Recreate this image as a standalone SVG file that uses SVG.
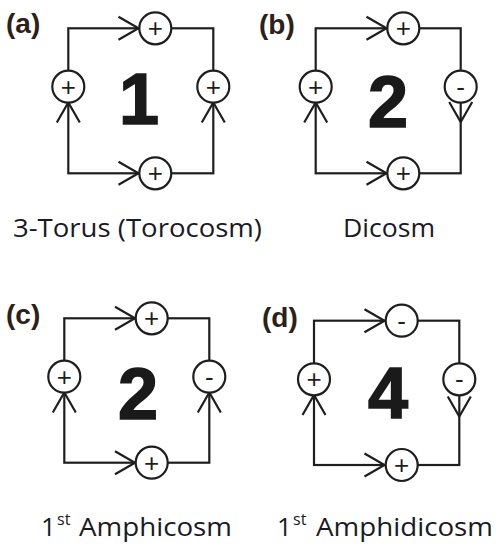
<svg xmlns="http://www.w3.org/2000/svg" width="503" height="558" viewBox="0 0 503 558">
<style>
.ln{fill:none;stroke:#1e1e1e;stroke-width:2.2}
.nd{fill:#fff;stroke:#1e1e1e;stroke-width:2.2}
.sg{font-family:"Liberation Sans",Arial,sans-serif;font-size:26px;fill:#1e1e1e;text-anchor:middle}
.big{font-family:"Liberation Sans",Arial,sans-serif;font-weight:bold;font-size:72px;fill:#1a1a1a;stroke:#1a1a1a;stroke-width:1.6;text-anchor:middle}
.tag{font-family:"Liberation Sans",Arial,sans-serif;font-weight:bold;font-size:28px;fill:#2b2118}
.cap{font-family:"Open Sans","Liberation Sans",sans-serif;font-size:26px;fill:#1a1a24}
.sup{font-family:"Open Sans","Liberation Sans",sans-serif;font-size:16px;fill:#1a1a24}
</style>
<defs>
<path id="chev" class="ln" d="M-20,-11.5 L0,0 L-20,11.5"/>
</defs>
<rect width="503" height="558" fill="#fff"/>
<g id="connectors">
<rect class="ln" x="68.3" y="28.3" width="145" height="145"/>
<rect class="ln" x="315.7" y="28.3" width="145" height="145"/>
<rect class="ln" x="64.3" y="318.3" width="145" height="144.4"/>
<rect class="ln" x="314" y="320.7" width="145.3" height="144.3"/>
<use href="#chev" transform="translate(138.5,28.3)"/>
<use href="#chev" transform="translate(138.5,173.3)"/>
<use href="#chev" transform="translate(68.3,102.5) rotate(-90)"/>
<use href="#chev" transform="translate(213.3,102.5) rotate(-90)"/>
<use href="#chev" transform="translate(386.5,28.3)"/>
<use href="#chev" transform="translate(386.5,173.3)"/>
<use href="#chev" transform="translate(315.7,102.5) rotate(-90)"/>
<use href="#chev" transform="translate(460.7,122) rotate(90)"/>
<use href="#chev" transform="translate(135,318.3)"/>
<use href="#chev" transform="translate(135,462.7)"/>
<use href="#chev" transform="translate(64.3,392.5) rotate(-90)"/>
<use href="#chev" transform="translate(209.3,392.5) rotate(-90)"/>
<use href="#chev" transform="translate(384.5,320.7)"/>
<use href="#chev" transform="translate(384.5,465)"/>
<use href="#chev" transform="translate(314,395) rotate(-90)"/>
<use href="#chev" transform="translate(459.3,416.5) rotate(90)"/>
</g>
<g id="panel-a">
<text class="tag" x="6" y="33">(a)</text>
<g id="a-top"><circle class="nd" cx="155.3" cy="28.3" r="16"/><text class="sg" x="155.3" y="37.3">+</text></g>
<g id="a-left"><circle class="nd" cx="68.3" cy="86.7" r="16"/><text class="sg" x="68.3" y="95.7">+</text></g>
<g id="a-right"><circle class="nd" cx="213.3" cy="86.7" r="16"/><text class="sg" x="213.3" y="95.7">+</text></g>
<g id="a-bottom"><circle class="nd" cx="155.3" cy="173.3" r="16"/><text class="sg" x="155.3" y="182.3">+</text></g>
<text class="big" x="139" y="124">1</text>
<text class="cap" x="13" y="237" textLength="249" lengthAdjust="spacingAndGlyphs">3-Torus (Torocosm)</text>
</g>
<g id="panel-b">
<text class="tag" x="259" y="34">(b)</text>
<g id="b-top"><circle class="nd" cx="403.3" cy="28.3" r="16"/><text class="sg" x="403.3" y="37.3">+</text></g>
<g id="b-left"><circle class="nd" cx="315.7" cy="86.7" r="16"/><text class="sg" x="315.7" y="95.7">+</text></g>
<g id="b-right"><circle class="nd" cx="460.7" cy="86.7" r="16"/><text class="sg" x="460.7" y="95.7">-</text></g>
<g id="b-bottom"><circle class="nd" cx="403.3" cy="173.3" r="16"/><text class="sg" x="403.3" y="182.3">+</text></g>
<text class="big" x="388" y="127">2</text>
<text class="cap" x="343" y="237" textLength="92" lengthAdjust="spacingAndGlyphs">Dicosm</text>
</g>
<g id="panel-c">
<text class="tag" x="6" y="324">(c)</text>
<g id="c-top"><circle class="nd" cx="151.7" cy="318.3" r="16"/><text class="sg" x="151.7" y="327.3">+</text></g>
<g id="c-left"><circle class="nd" cx="64.3" cy="376.7" r="16"/><text class="sg" x="64.3" y="385.7">+</text></g>
<g id="c-right"><circle class="nd" cx="209.3" cy="376.7" r="16"/><text class="sg" x="209.3" y="385.7">-</text></g>
<g id="c-bottom"><circle class="nd" cx="151.7" cy="462.7" r="16"/><text class="sg" x="151.7" y="471.7">+</text></g>
<text class="big" x="138" y="419">2</text>
<text class="cap" x="41" y="536">1</text>
<text class="sup" x="57" y="525">st</text>
<text class="cap" x="79" y="536" textLength="153" lengthAdjust="spacingAndGlyphs">Amphicosm</text>
</g>
<g id="panel-d">
<text class="tag" x="262" y="327">(d)</text>
<g id="d-top"><circle class="nd" cx="401.7" cy="320.7" r="16"/><text class="sg" x="401.7" y="329.7">-</text></g>
<g id="d-left"><circle class="nd" cx="314" cy="379.3" r="16"/><text class="sg" x="314" y="388.3">+</text></g>
<g id="d-right"><circle class="nd" cx="459.3" cy="379.3" r="16"/><text class="sg" x="459.3" y="388.3">-</text></g>
<g id="d-bottom"><circle class="nd" cx="401.7" cy="465" r="16"/><text class="sg" x="401.7" y="474">+</text></g>
<text class="big" x="388" y="418">4</text>
<text class="cap" x="277" y="536">1</text>
<text class="sup" x="293" y="525">st</text>
<text class="cap" x="316" y="536" textLength="177" lengthAdjust="spacingAndGlyphs">Amphidicosm</text>
</g>
</svg>
